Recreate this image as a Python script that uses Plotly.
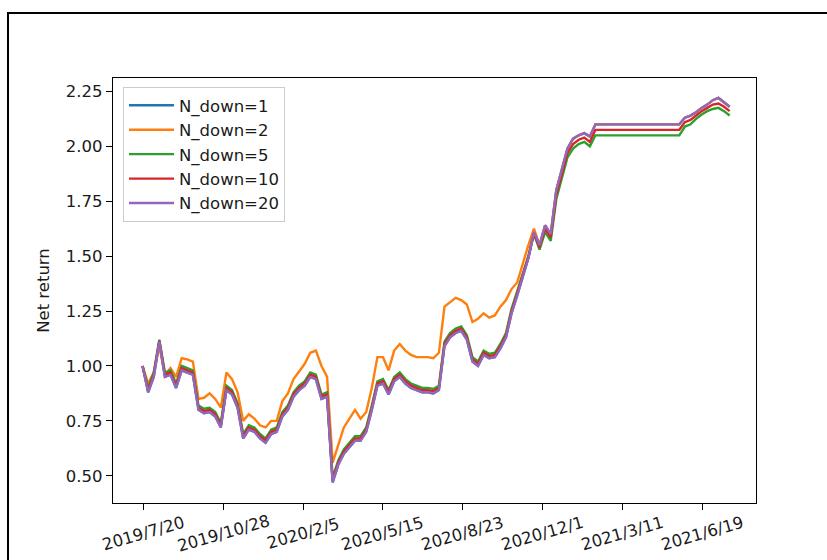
import pandas as pd
import plotly.graph_objects as go

# Weekly observations of the strategy's net return for each N_down setting
dates = pd.date_range("2019-07-19", periods=106, freq="7D")

n_down_20 = [
    1.00, 0.88, 0.95, 1.11, 0.95, 0.96, 0.90, 0.98, 0.97, 0.96,
    0.80, 0.785, 0.79, 0.77, 0.72, 0.89, 0.87, 0.81, 0.67, 0.71,
    0.70, 0.67, 0.65, 0.69, 0.70, 0.77, 0.80, 0.86, 0.89, 0.91,
    0.95, 0.94, 0.85, 0.86, 0.47, 0.55, 0.60, 0.63, 0.66, 0.66,
    0.70, 0.80, 0.91, 0.92, 0.87, 0.93, 0.95, 0.92, 0.90, 0.89,
    0.88, 0.88, 0.875, 0.89, 1.09, 1.13, 1.15, 1.16, 1.12, 1.02,
    1.00, 1.05, 1.035, 1.04, 1.08, 1.13, 1.24, 1.32, 1.40, 1.49,
    1.61, 1.55, 1.64, 1.60, 1.80, 1.89, 1.99, 2.035, 2.05, 2.06,
    2.045, 2.10, 2.10, 2.10, 2.10, 2.10, 2.10, 2.10, 2.10, 2.10,
    2.10, 2.10, 2.10, 2.10, 2.10, 2.10, 2.10, 2.13, 2.14, 2.155,
    2.175, 2.19, 2.21, 2.22, 2.20, 2.18,
]

n_down_10 = [
    1.00, 0.89, 0.96, 1.115, 0.96, 0.97, 0.91, 0.99, 0.98, 0.97,
    0.81, 0.795, 0.80, 0.78, 0.73, 0.90, 0.88, 0.82, 0.68, 0.72,
    0.71, 0.68, 0.66, 0.70, 0.71, 0.78, 0.81, 0.87, 0.90, 0.92,
    0.96, 0.95, 0.86, 0.87, 0.48, 0.56, 0.61, 0.64, 0.67, 0.67,
    0.71, 0.81, 0.92, 0.93, 0.88, 0.94, 0.96, 0.93, 0.91, 0.90,
    0.89, 0.89, 0.885, 0.90, 1.10, 1.14, 1.16, 1.17, 1.13, 1.03,
    1.01, 1.06, 1.045, 1.05, 1.09, 1.14, 1.25, 1.33, 1.41, 1.495,
    1.605, 1.54, 1.625, 1.585, 1.78, 1.87, 1.97, 2.01, 2.03, 2.04,
    2.02, 2.075, 2.075, 2.075, 2.075, 2.075, 2.075, 2.075, 2.075, 2.075,
    2.075, 2.075, 2.075, 2.075, 2.075, 2.075, 2.075, 2.11, 2.12, 2.14,
    2.16, 2.175, 2.19, 2.195, 2.18, 2.16,
]

n_down_5 = [
    1.00, 0.90, 0.97, 1.12, 0.97, 0.98, 0.92, 1.00, 0.99, 0.98,
    0.82, 0.805, 0.81, 0.79, 0.74, 0.91, 0.89, 0.83, 0.69, 0.73,
    0.72, 0.69, 0.67, 0.71, 0.72, 0.79, 0.82, 0.88, 0.91, 0.93,
    0.97, 0.96, 0.87, 0.88, 0.49, 0.57, 0.62, 0.65, 0.68, 0.68,
    0.72, 0.82, 0.93, 0.94, 0.89, 0.95, 0.97, 0.94, 0.92, 0.91,
    0.90, 0.90, 0.895, 0.91, 1.11, 1.15, 1.17, 1.18, 1.14, 1.04,
    1.02, 1.07, 1.055, 1.06, 1.10, 1.15, 1.26, 1.34, 1.42, 1.50,
    1.60, 1.53, 1.61, 1.57, 1.76, 1.85, 1.95, 1.99, 2.01, 2.02,
    2.00, 2.05, 2.05, 2.05, 2.05, 2.05, 2.05, 2.05, 2.05, 2.05,
    2.05, 2.05, 2.05, 2.05, 2.05, 2.05, 2.05, 2.09, 2.10, 2.125,
    2.145, 2.16, 2.17, 2.175, 2.16, 2.14,
]

n_down_2 = [
    1.00, 0.92, 0.97, 1.09, 0.96, 0.99, 0.95, 1.035, 1.03, 1.02,
    0.85, 0.855, 0.875, 0.85, 0.81, 0.97, 0.94, 0.88, 0.75, 0.78,
    0.76, 0.73, 0.72, 0.75, 0.75, 0.84, 0.875, 0.94, 0.975, 1.01,
    1.06, 1.07, 1.00, 0.95, 0.56, 0.64, 0.72, 0.76, 0.80, 0.76,
    0.79, 0.90, 1.04, 1.04, 0.98, 1.07, 1.10, 1.07, 1.05, 1.04,
    1.04, 1.04, 1.035, 1.06, 1.27, 1.29, 1.31, 1.30, 1.28, 1.20,
    1.215, 1.24, 1.22, 1.23, 1.27, 1.30, 1.35, 1.38, 1.47, 1.55,
    1.625, 1.55, 1.64, 1.60, 1.80, 1.89, 1.99, 2.035, 2.05, 2.06,
    2.045, 2.10, 2.10, 2.10, 2.10, 2.10, 2.10, 2.10, 2.10, 2.10,
    2.10, 2.10, 2.10, 2.10, 2.10, 2.10, 2.10, 2.13, 2.14, 2.155,
    2.175, 2.19, 2.21, 2.22, 2.20, 2.18,
]

# N_down=1 follows the same path as N_down=20
n_down_1 = list(n_down_20)

series_names = ["N_down=1", "N_down=2", "N_down=5", "N_down=10", "N_down=20"]
series_values = [n_down_1, n_down_2, n_down_5, n_down_10, n_down_20]
series_colors = ["#1f77b4", "#ff7f0e", "#2ca02c", "#d62728", "#9467bd"]

tick_dates = ["2019-07-20", "2019-10-28", "2020-02-05", "2020-05-15",
              "2020-08-23", "2020-12-01", "2021-03-11", "2021-06-19"]
tick_labels = ["2019/7/20", "2019/10/28", "2020/2/5", "2020/5/15",
               "2020/8/23", "2020/12/1", "2021/3/11", "2021/6/19"]
y_ticks = [0.50, 0.75, 1.00, 1.25, 1.50, 1.75, 2.00, 2.25]

for vals in series_values:
    if len(vals) != len(dates):
        raise ValueError("series length mismatch")

FONT = "DejaVu Sans"
TXT = "#1a1a1a"
FS = 16.5

fig = go.Figure()
for name, vals, color in zip(series_names, series_values, series_colors):
    fig.add_trace(go.Scatter(
        x=dates, y=vals, mode="lines", name=name,
        line=dict(color=color, width=2.4),
    ))

W, H = 827, 560
L, R, T, B = 113, 71, 78, 57
pw, ph = W - L - R, H - T - B


def px_x(x):
    return (x - L) / pw


def px_y(y):
    return (H - B - y) / ph


# rotated date labels under the axis
annotations = [
    dict(x=d, y=px_y(533), xref="x", yref="paper", text=t, showarrow=False,
         textangle=-16, xanchor="center", yanchor="middle",
         font=dict(family=FONT, size=FS, color=TXT))
    for d, t in zip(tick_dates, tick_labels)
]

fig.update_layout(
    width=W, height=H,
    margin=dict(l=L, r=R, t=T, b=B),
    paper_bgcolor="white", plot_bgcolor="white",
    font=dict(family=FONT, size=FS, color=TXT),
    showlegend=True,
    legend=dict(
        x=px_x(123), y=px_y(87), xanchor="left", yanchor="top",
        bgcolor="rgba(255,255,255,0.85)", bordercolor="#cccccc", borderwidth=1,
        font=dict(family=FONT, size=FS, color=TXT),
        tracegroupgap=0, itemwidth=45,
    ),
    xaxis=dict(
        range=["2019-06-12", "2021-08-25"],
        tickvals=tick_dates, showticklabels=False,
        ticks="outside", ticklen=6, tickwidth=1.3, tickcolor="black",
        showline=True, linecolor="black", linewidth=1.3, mirror=True,
        showgrid=False, zeroline=False, automargin=False,
    ),
    yaxis=dict(
        range=[0.376, 2.311],
        tickvals=y_ticks, tickformat=".2f",
        ticks="outside", ticklen=6, tickwidth=1.3, tickcolor="black",
        showline=True, linecolor="black", linewidth=1.3, mirror=True,
        showgrid=False, zeroline=False, automargin=False,
        title=dict(text="Net return", standoff=12,
                   font=dict(family=FONT, size=FS, color=TXT)),
        tickfont=dict(family=FONT, size=FS, color=TXT),
    ),
    annotations=annotations,
    shapes=[dict(
        type="rect", xref="paper", yref="paper",
        x0=px_x(8), x1=px_x(840), y0=px_y(575), y1=px_y(13),
        line=dict(color="black", width=2), fillcolor="rgba(0,0,0,0)",
        layer="above",
    )],
)

fig.write_html("out.html")
